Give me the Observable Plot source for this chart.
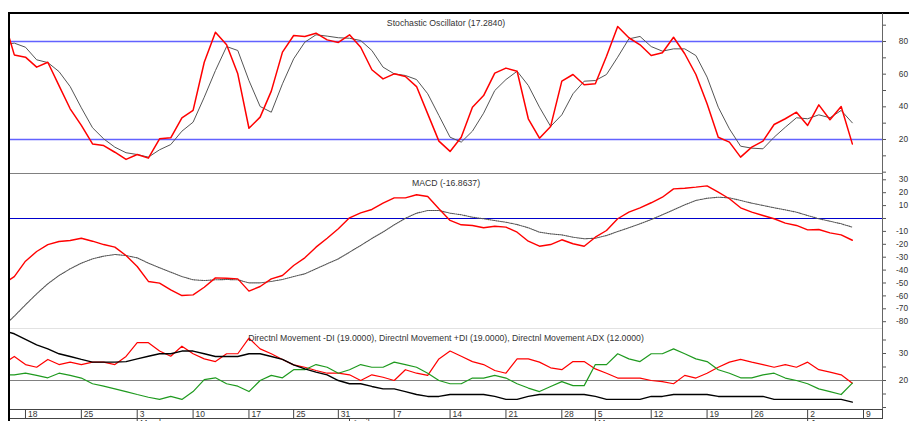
<!DOCTYPE html>
<html>
<head>
<meta charset="utf-8">
<script src="https://cdn.jsdelivr.net/npm/d3@7"></script>
<script src="https://cdn.jsdelivr.net/npm/@observablehq/plot@0.6"></script>
<style>
html, body { margin: 0; padding: 0; background: #fff; }
#wrap { position: relative; width: 909px; height: 421px; overflow: hidden; background: #fff; }
.ln { position: absolute; }
</style>
</head>
<body>
<div id="wrap"></div>
<script>
// ---- data (trading-day index; day -1 lies just left of the visible window) ----
const days = d3.range(-1, 76);

const stochK = [95,
  71.8, 70.4, 64.3, 67.3, 53, 38.8, 28.6, 17.3, 16.3, 12.2,
  7.8, 10.8, 8.6, 20.4, 21.0, 33.3, 37.8, 67.3, 85.7, 78,
  60.2, 26.9, 33.7, 49.6, 73.5, 83.7, 83.1, 85.1, 81, 79.4,
  84.1, 76.5, 62.7, 57.1, 60.2, 58.6, 52.4, 35.7, 19, 12.7,
  21.4, 39.8, 46.9, 60.6, 63.7, 61.8, 32.7, 20.8, 28, 55.7,
  59.8, 53.5, 54.1, 71, 89.2, 82.3, 78, 71.4, 73.1, 82.6,
  72.5, 59.8, 41.9, 21.4, 18.4, 9.2, 15.3, 19, 29.2, 32.7,
  36.7, 28.6, 41.2, 32.1, 40.2, 17.3];
const stochD = [78,
  79, 76.5, 68.8, 67.1, 61.6, 52.4, 39.4, 27.2, 20.4, 15.3,
  11.9, 10.8, 9.2, 13.7, 16.9, 25.1, 30.6, 45.9, 62.2, 76.9,
  74.5, 56.1, 40.2, 36.7, 54.1, 69.4, 79.6, 84.1, 83.3, 82.3,
  82, 80.6, 74.5, 64.3, 60.2, 59.2, 56.7, 48, 34.7, 21.4,
  18.4, 25.1, 36.1, 50, 56.7, 61.8, 53.1, 39.8, 28, 35.1,
  48, 55.7, 56.1, 59.8, 70.4, 81.6, 83.1, 76.9, 74.1, 75.5,
  75.5, 71.4, 58.2, 39.8, 26.5, 15.9, 14.7, 14.3, 21.4, 27.5,
  33.3, 32.7, 35.1, 33.3, 37.8, 30.2];

const macdLine = [-50.8,
  -45, -33.1, -25.6, -20.2, -17.8, -17.1, -15.3, -17.6, -20.2, -22.2,
  -28.7, -37.2, -48.8, -50.1, -55.3, -59.7, -59.2, -53.3, -46, -46.3,
  -46.8, -56.3, -52.7, -46.8, -44.2, -36.4, -30.5, -22.2, -15.3, -8,
  0.5, 4.4, 7, 11.9, 16, 16, 18.4, 17.1, 7.5, -1.5,
  -4.9, -5.4, -7.2, -6, -6.7, -10.6, -17.6, -21.5, -20.2, -16.5,
  -19.6, -21.5, -14.5, -9.3, -0.2, 4.9, 8.3, 12.2, 16.5, 23,
  23.5, 24.3, 25.3, 20.4, 15.3, 8.3, 4.9, 2.3, -0.2, -3.6,
  -5.4, -8.8, -8.5, -11.1, -12.7, -16.86];
const macdSignal = [-84,
  -75.7, -66.9, -58.4, -50.6, -44.2, -39, -34.6, -31.3, -29.2, -27.9,
  -28.7, -30.5, -34.6, -38.2, -41.6, -45, -47.5, -48.1, -47.5, -47.3,
  -47.5, -49.9, -49.9, -48.8, -47.3, -45, -42.9, -39, -35.1, -31.3,
  -26.1, -20.9, -15.5, -10.5, -4.9, 0.2, 4.1, 6.2, 6.2, 4.1,
  2.9, 1, -0.2, -1.6, -2.9, -4.7, -7.2, -10.6, -11.9, -12.7,
  -14.5, -15.7, -15.3, -13.2, -10.1, -7.2, -4.1, -0.8, 2.9, 6.7,
  10.6, 14, 15.7, 16.5, 16, 14, 11.9, 10.1, 8.3, 6.7,
  4.9, 2.3, -0.2, -2.1, -4.1, -6.7];

const diMinus = [26.1,
  28.9, 25.9, 24.9, 27.8, 25.9, 26.8, 25.9, 26.8, 26.8, 25.9,
  28.9, 34, 34, 30.9, 29, 32.7, 29.9, 28, 27, 29.9,
  29.9, 35.7, 31.7, 29.9, 27.8, 25.8, 24.9, 23.7, 22.7, 22.7,
  22.1, 20, 22.1, 21.2, 20, 24, 22.7, 21.9, 28, 30.9,
  29, 27, 25.9, 23.7, 22.7, 28, 28, 26.8, 24.7, 24,
  27, 27, 24.3, 22.7, 20.9, 20.9, 20.9, 20, 19.6, 18.8,
  21.9, 20.9, 22.7, 24.9, 26.8, 27.8, 26.8, 25.9, 24.9, 25.9,
  24.9, 26.8, 24, 23.1, 22.1, 19];
const diPlus = [22.1,
  22.1, 22.7, 21.9, 21, 22.7, 21.9, 20.9, 18.8, 17.9, 16.9,
  15.9, 14.8, 13.8, 13, 14.1, 13, 15.9, 20.3, 21, 18.8,
  17.9, 15.9, 20, 21.9, 21, 24, 24, 25.9, 24.9, 22.7,
  24, 25.9, 24.9, 24.9, 26.8, 25.9, 24.9, 22.7, 20, 18.8,
  18.8, 20.9, 20.9, 21.9, 20.9, 18.8, 17.2, 15.9, 17.8, 19.6,
  18.1, 18.1, 25.9, 25.9, 29.9, 28, 27, 29.9, 29.9, 31.7,
  29.9, 28, 27, 24, 22.7, 21, 21, 22.1, 22.7, 20.9,
  20, 18.8, 16.9, 15.9, 14.8, 19];
const adx = [38.5,
  37.3, 35.2, 33.2, 31.7, 29.9, 28.9, 27.8, 26.8, 26.8, 26.8,
  27, 28, 29, 29.9, 29.9, 30.9, 30.9, 29.9, 28.9, 28.9,
  28.9, 29.9, 29.9, 28.9, 27.8, 25.8, 24.3, 23.1, 22.1, 20,
  18.8, 18.8, 17.8, 16.9, 16.9, 15.9, 14.8, 14.1, 14.1, 14.8,
  14.8, 14.8, 14.8, 14.1, 13, 13, 14.1, 14.8, 14.8, 14.8,
  14.8, 14.8, 14.1, 13, 13, 13, 13, 14.1, 14.1, 14.8,
  14.8, 14.8, 14.8, 14.1, 14.1, 14.1, 14.1, 14.1, 13, 13,
  13, 13, 13, 13, 13, 12];

const dayTicks  = [1, 6, 11, 16, 21, 25, 29, 34, 39, 44, 49, 52, 57, 62, 66, 71, 76];
const dayLabels = ["18","25","3","10","17","25","31","7","14","21","28","5","12","19","26","2","9"];
const monthTicks  = [11, 30, 52, 71];
const monthLabels = ["March", "April", "May", "June"];

const stochBands = [80, 20];
const stochTicks = d3.range(0, 100, 10);
const stochLabels = [80, 60, 40, 20];
const macdZero = [0];
const macdTicks = d3.range(-80, 40, 10);
const macdLabels = [30, 20, 10, -10, -20, -30, -40, -50, -60, -70, -80];
const dmiLevel = [20];
const dmiTicks = d3.range(10, 45, 5);
const dmiLabels = [30, 20];

const titles = [
  "Stochastic Oscillator (17.2840)",
  "MACD (-16.8637)",
  "Directnl Movement -DI (19.0000), Directnl Movement +DI (19.0000), Directnl Movement ADX (12.0000)"
];

// ---- tables ----
const stochRows = days.map((d, i) => ({day: d, k: stochK[i], d: stochD[i]}));
const macdRows  = days.map((d, i) => ({day: d, macd: macdLine[i], signal: macdSignal[i]}));
const dmiRows   = days.map((d, i) => ({day: d, minus: diMinus[i], plus: diPlus[i], adx: adx[i]}));

const FONT = "Arial, 'Liberation Sans', Helvetica, sans-serif";
const W = 909, ML = 9, MR = 27;
const xDomain = [-0.43, 77.7];
const wrap = document.getElementById("wrap");

function place(el, top) {
  el.style.position = "absolute";
  el.style.left = "0px";
  el.style.top = top + "px";
  wrap.appendChild(el);
}

function panel({top, height, yDomain, yTicks, yLabels, title, titleDy, marks}) {
  const p = Plot.plot({
    width: W, height, marginLeft: ML, marginRight: MR, marginTop: 0, marginBottom: 0,
    x: {domain: xDomain, axis: null},
    y: {domain: yDomain, axis: "right", ticks: yTicks, tickSize: 3, tickFormat: () => "", label: null},
    style: {fontFamily: FONT, background: "white", color: "#555"},
    marks: [
      ...marks,
      Plot.text(yLabels, {y: d => d, text: d => String(d), frameAnchor: "right", textAnchor: "end", dx: 25.5, fontSize: 8.3, fill: "#333"}),
      Plot.text([title], {frameAnchor: "top", dy: titleDy, text: d => d, fontSize: 8.7, fill: "#333"})
    ]
  });
  place(p, top);
}

// Stochastic panel: y 12..173
panel({
  top: 12, height: 161, yDomain: [-0.82, 97.76], yTicks: stochTicks, yLabels: stochLabels,
  title: titles[0], titleDy: 7.7,
  marks: [
    Plot.ruleY(stochBands, {stroke: "#6262ff", strokeWidth: 1.6}),
    Plot.line(stochRows, {x: "day", y: "d", stroke: "#555", strokeWidth: 1, clip: true}),
    Plot.line(stochRows, {x: "day", y: "k", stroke: "#ff0000", strokeWidth: 1.5, clip: true})
  ]
});

// MACD panel: y 173..328
panel({
  top: 173, height: 155, yDomain: [-85.27, 34.88], yTicks: macdTicks, yLabels: macdLabels,
  title: titles[1], titleDy: 6.5,
  marks: [
    Plot.ruleY(macdZero, {stroke: "#0000cc", strokeWidth: 1.2}),
    Plot.line(macdRows, {x: "day", y: "signal", stroke: "#555", strokeWidth: 1.1, strokeDasharray: "1,1", clip: true}),
    Plot.line(macdRows, {x: "day", y: "macd", stroke: "#ff0000", strokeWidth: 1.4, clip: true})
  ]
});

// DMI panel: y 328..408
panel({
  top: 328, height: 80, yDomain: [9.63, 39.26], yTicks: dmiTicks, yLabels: dmiLabels,
  title: titles[2], titleDy: 6.5,
  marks: [
    Plot.ruleY(dmiLevel, {stroke: "#808080", strokeWidth: 1}),
    Plot.line(dmiRows, {x: "day", y: "minus", stroke: "#ff0000", strokeWidth: 1.2, clip: true}),
    Plot.line(dmiRows, {x: "day", y: "plus", stroke: "#1f9a1f", strokeWidth: 1.2, clip: true}),
    Plot.line(dmiRows, {x: "day", y: "adx", stroke: "#000", strokeWidth: 1.4, clip: true})
  ]
});

// Date row: 409..418
const dateRow = Plot.plot({
  width: W, height: 13, marginLeft: ML, marginRight: MR, marginTop: 1, marginBottom: 3,
  x: {domain: xDomain, axis: null},
  style: {fontFamily: FONT, background: "white"},
  marks: [
    Plot.frame({stroke: "#444"}),
    Plot.ruleX(dayTicks, {stroke: "#444"}),
    Plot.text(dayTicks, {x: d => d, text: (d, i) => dayLabels[i], frameAnchor: "middle", textAnchor: "start", dx: 2.5, dy: 0.5, fontSize: 8.5, fill: "#333"})
  ]
});
place(dateRow, 408);

// Month row: 418..
const monthRow = Plot.plot({
  width: W, height: 14, marginLeft: ML, marginRight: MR, marginTop: 0, marginBottom: 0,
  x: {domain: xDomain, axis: null},
  style: {fontFamily: FONT, background: "transparent"},
  marks: [
    Plot.ruleX(monthTicks, {stroke: "#444"}),
    Plot.text(monthTicks, {x: d => d, text: (d, i) => monthLabels[i], frameAnchor: "top", lineAnchor: "top", textAnchor: "start", dx: 3, dy: 1.5, fontSize: 8.5, fill: "#333"})
  ]
});
place(monthRow, 418);

// frame lines
function line(left, top, width, height, color) {
  const d = document.createElement("div");
  d.className = "ln";
  Object.assign(d.style, {left: left + "px", top: top + "px", width: width + "px", height: height + "px", background: color});
  wrap.appendChild(d);
}
line(8, 12, 901, 2, "#000");      // top border
line(8, 12, 2, 409, "#000");      // left border
line(10, 173, 872, 1, "#808080"); // stoch / macd separator
line(10, 328, 872, 1, "#e2e2e2"); // macd / dmi separator
line(882, 13, 1, 396, "#666");    // right axis line
</script>
</body>
</html>
